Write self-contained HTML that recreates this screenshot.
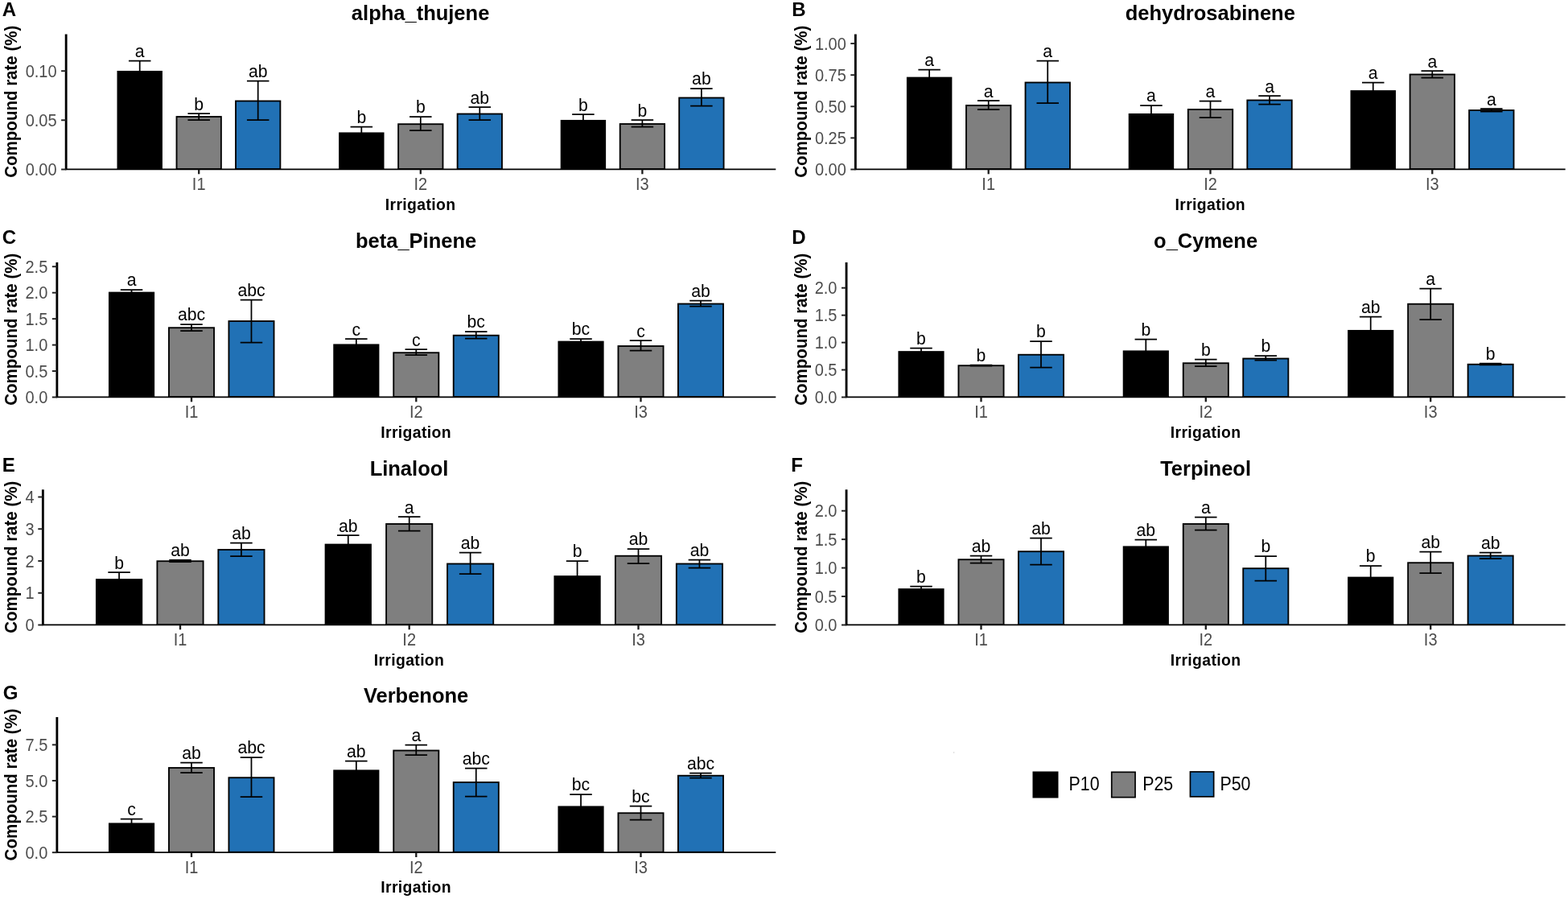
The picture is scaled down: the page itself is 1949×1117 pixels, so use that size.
<!DOCTYPE html>
<html lang="en">
<head>
<meta charset="utf-8">
<title>Compound rate by irrigation</title>
<style>
html,body{margin:0;padding:0;background:#fff;}
body{width:1949px;height:1117px;overflow:hidden;}
svg{display:block;}
text{font-family:"Liberation Sans", sans-serif;fill:#000;}
.tag{font-size:24px;font-weight:bold;}
.ttl{font-size:25.5px;font-weight:bold;text-anchor:middle;}
.axt{font-size:20.5px;font-weight:bold;text-anchor:middle;}
.ytl{font-size:20px;fill:#4d4d4d;text-anchor:end;}
.xtl{font-size:20px;fill:#4d4d4d;text-anchor:middle;}
.lab{font-size:21.2px;text-anchor:middle;}
.lg{font-size:21.4px;}
.ax{stroke:#000;stroke-width:2.85;fill:none;stroke-linecap:butt;}
.axh{stroke:#000;stroke-width:1.7;fill:none;stroke-linecap:butt;}
.tk{stroke:#1f1f1f;stroke-width:1.9;fill:none;}
.tkx{stroke:#1a1a1a;stroke-width:2.3;fill:none;}
.axx{font-size:19.4px;font-weight:bold;text-anchor:middle;letter-spacing:0.35px;}
.eb{stroke:#000;stroke-width:1.75;fill:none;}
</style>
</head>
<body>
<svg width="1949" height="1117" viewBox="0 0 1949 1117">
<rect width="1949" height="1117" fill="#fff"/>
<g class="panel">
<text class="tag" x="2.8" y="19.9">A</text>
<text class="ttl" x="522.6" y="24.6">alpha_thujene</text>
<text class="axt" transform="translate(21.3,126.2) rotate(-90) scale(1,1.035)">Compound rate (%)</text>
<text class="axx" x="522.6" y="260.6">Irrigation</text>
<rect x="145.5" y="87.95" width="56.42" height="123.05" fill="#000000"/>
<path class="eb" d="M159.96 75.7H187.46M173.71 75.7V99.5M159.96 99.5H187.46"/>
<text class="lab" x="173.71" y="71.1">a</text>
<rect x="219.51" y="145.03" width="55.37" height="65.05" fill="#7f7f7f" stroke="#000" stroke-width="1.85"/>
<path class="eb" d="M233.45 141.2H260.95M247.2 141.2V149.2M233.45 149.2H260.95"/>
<text class="lab" x="247.2" y="136.6">b</text>
<rect x="293.01" y="125.52" width="55.37" height="84.55" fill="#2171b5" stroke="#000" stroke-width="1.85"/>
<path class="eb" d="M306.94 100.7H334.44M320.69 100.7V149.2M306.94 149.2H334.44"/>
<text class="lab" x="320.69" y="96.1">ab</text>
<rect x="421.1" y="164.45" width="56.42" height="46.55" fill="#000000"/>
<path class="eb" d="M435.56 157.7H463.06M449.31 157.7V170.5M435.56 170.5H463.06"/>
<text class="lab" x="449.31" y="153.1">b</text>
<rect x="495.11" y="154.22" width="55.37" height="55.85" fill="#7f7f7f" stroke="#000" stroke-width="1.85"/>
<path class="eb" d="M509.05 145H536.55M522.8 145V162M509.05 162H536.55"/>
<text class="lab" x="522.8" y="140.4">b</text>
<rect x="568.61" y="141.53" width="55.37" height="68.55" fill="#2171b5" stroke="#000" stroke-width="1.85"/>
<path class="eb" d="M582.54 133.2H610.04M596.29 133.2V149.2M582.54 149.2H610.04"/>
<text class="lab" x="596.29" y="128.6">ab</text>
<rect x="696.7" y="148.95" width="56.42" height="62.05" fill="#000000"/>
<path class="eb" d="M711.16 142.2H738.66M724.91 142.2V155M711.16 155H738.66"/>
<text class="lab" x="724.91" y="137.6">b</text>
<rect x="770.71" y="154.03" width="55.37" height="56.05" fill="#7f7f7f" stroke="#000" stroke-width="1.85"/>
<path class="eb" d="M784.65 149.2H812.15M798.4 149.2V157.7M784.65 157.7H812.15"/>
<text class="lab" x="798.4" y="144.6">b</text>
<rect x="844.21" y="121.52" width="55.37" height="88.55" fill="#2171b5" stroke="#000" stroke-width="1.85"/>
<path class="eb" d="M858.14 110H885.64M871.89 110V131.7M858.14 131.7H885.64"/>
<text class="lab" x="871.89" y="105.4">ab</text>
<path class="ax" d="M82.15 42.5V211.05"/>
<path class="axh" d="M81.1 210.35H964.3"/>
<path class="tk" d="M76.1 210.5H82.3"/>
<text class="ytl" transform="translate(70.6,218.1) scale(1,1.09)">0.00</text>
<path class="tk" d="M76.1 149.3H82.3"/>
<text class="ytl" transform="translate(70.6,156.9) scale(1,1.09)">0.05</text>
<path class="tk" d="M76.1 88.2H82.3"/>
<text class="ytl" transform="translate(70.6,95.8) scale(1,1.09)">0.10</text>
<path class="tkx" d="M247.2 210.5V216.3"/>
<text class="xtl" transform="translate(247.2,236.1) scale(1,1.06)">I1</text>
<path class="tkx" d="M522.8 210.5V216.3"/>
<text class="xtl" transform="translate(522.8,236.1) scale(1,1.06)">I2</text>
<path class="tkx" d="M798.4 210.5V216.3"/>
<text class="xtl" transform="translate(798.4,236.1) scale(1,1.06)">I3</text>
</g>
<g class="panel">
<text class="tag" x="984.2" y="19.9">B</text>
<text class="ttl" x="1504.3" y="24.6">dehydrosabinene</text>
<text class="axt" transform="translate(1003.3,126.2) rotate(-90) scale(1,1.035)">Compound rate (%)</text>
<text class="axx" x="1504.3" y="260.6">Irrigation</text>
<rect x="1126.92" y="95.65" width="56.46" height="115.35" fill="#000000"/>
<path class="eb" d="M1141.4 86.5H1168.9M1155.15 86.5V104.1M1141.4 104.1H1168.9"/>
<text class="lab" x="1155.15" y="81.9">a</text>
<rect x="1200.99" y="131.03" width="55.41" height="79.05" fill="#7f7f7f" stroke="#000" stroke-width="1.85"/>
<path class="eb" d="M1214.95 125.2H1242.45M1228.7 125.2V136M1214.95 136H1242.45"/>
<text class="lab" x="1228.7" y="120.6">a</text>
<rect x="1274.54" y="102.52" width="55.41" height="107.55" fill="#2171b5" stroke="#000" stroke-width="1.85"/>
<path class="eb" d="M1288.5 75.5H1316M1302.25 75.5V128.2M1288.5 128.2H1316"/>
<text class="lab" x="1302.25" y="70.9">a</text>
<rect x="1402.72" y="140.95" width="56.46" height="70.05" fill="#000000"/>
<path class="eb" d="M1417.2 131H1444.7M1430.95 131V150.2M1417.2 150.2H1444.7"/>
<text class="lab" x="1430.95" y="126.4">a</text>
<rect x="1476.79" y="136.03" width="55.41" height="74.05" fill="#7f7f7f" stroke="#000" stroke-width="1.85"/>
<path class="eb" d="M1490.75 125.7H1518.25M1504.5 125.7V146M1490.75 146H1518.25"/>
<text class="lab" x="1504.5" y="121.1">a</text>
<rect x="1550.34" y="124.52" width="55.41" height="85.55" fill="#2171b5" stroke="#000" stroke-width="1.85"/>
<path class="eb" d="M1564.3 119.2H1591.8M1578.05 119.2V129.7M1564.3 129.7H1591.8"/>
<text class="lab" x="1578.05" y="114.6">a</text>
<rect x="1678.52" y="112.15" width="56.46" height="98.85" fill="#000000"/>
<path class="eb" d="M1693 102.7H1720.5M1706.75 102.7V120.9M1693 120.9H1720.5"/>
<text class="lab" x="1706.75" y="98.1">a</text>
<rect x="1752.59" y="92.52" width="55.41" height="117.55" fill="#7f7f7f" stroke="#000" stroke-width="1.85"/>
<path class="eb" d="M1766.55 88.2H1794.05M1780.3 88.2V96.5M1766.55 96.5H1794.05"/>
<text class="lab" x="1780.3" y="83.6">a</text>
<rect x="1826.14" y="137.03" width="55.41" height="73.05" fill="#2171b5" stroke="#000" stroke-width="1.85"/>
<path class="eb" d="M1840.1 135.2H1867.6M1853.85 135.2V138.7M1840.1 138.7H1867.6"/>
<text class="lab" x="1853.85" y="130.6">a</text>
<path class="ax" d="M1063.35 42.5V211.05"/>
<path class="axh" d="M1062.3 210.35H1945.7"/>
<path class="tk" d="M1057.3 210.5H1063.5"/>
<text class="ytl" transform="translate(1051.8,218.1) scale(1,1.09)">0.00</text>
<path class="tk" d="M1057.3 171.4H1063.5"/>
<text class="ytl" transform="translate(1051.8,179) scale(1,1.09)">0.25</text>
<path class="tk" d="M1057.3 132.3H1063.5"/>
<text class="ytl" transform="translate(1051.8,139.9) scale(1,1.09)">0.50</text>
<path class="tk" d="M1057.3 93.2H1063.5"/>
<text class="ytl" transform="translate(1051.8,100.8) scale(1,1.09)">0.75</text>
<path class="tk" d="M1057.3 54.1H1063.5"/>
<text class="ytl" transform="translate(1051.8,61.7) scale(1,1.09)">1.00</text>
<path class="tkx" d="M1228.7 210.5V216.3"/>
<text class="xtl" transform="translate(1228.7,236.1) scale(1,1.06)">I1</text>
<path class="tkx" d="M1504.5 210.5V216.3"/>
<text class="xtl" transform="translate(1504.5,236.1) scale(1,1.06)">I2</text>
<path class="tkx" d="M1780.3 210.5V216.3"/>
<text class="xtl" transform="translate(1780.3,236.1) scale(1,1.06)">I3</text>
</g>
<g class="panel">
<text class="tag" x="2.8" y="302.9">C</text>
<text class="ttl" x="517.1" y="307.6">beta_Pinene</text>
<text class="axt" transform="translate(21.3,409.2) rotate(-90) scale(1,1.035)">Compound rate (%)</text>
<text class="axx" x="517.1" y="543.6">Irrigation</text>
<rect x="134.96" y="362.65" width="57.15" height="131.35" fill="#000000"/>
<path class="eb" d="M149.78 360H177.28M163.53 360V364.6M149.78 364.6H177.28"/>
<text class="lab" x="163.53" y="355.4">a</text>
<rect x="209.95" y="407.23" width="56.1" height="85.85" fill="#7f7f7f" stroke="#000" stroke-width="1.85"/>
<path class="eb" d="M224.25 403H251.75M238 403V411.2M224.25 411.2H251.75"/>
<text class="lab" x="238" y="398.4">abc</text>
<rect x="284.42" y="399.03" width="56.1" height="94.05" fill="#2171b5" stroke="#000" stroke-width="1.85"/>
<path class="eb" d="M298.72 372.7H326.22M312.47 372.7V425.5M298.72 425.5H326.22"/>
<text class="lab" x="312.47" y="368.1">abc</text>
<rect x="414.26" y="427.45" width="57.15" height="66.55" fill="#000000"/>
<path class="eb" d="M429.08 421.2H456.58M442.83 421.2V433M429.08 433H456.58"/>
<text class="lab" x="442.83" y="416.6">c</text>
<rect x="489.25" y="438.23" width="56.1" height="54.85" fill="#7f7f7f" stroke="#000" stroke-width="1.85"/>
<path class="eb" d="M503.55 434.2H531.05M517.3 434.2V441M503.55 441H531.05"/>
<text class="lab" x="517.3" y="429.6">c</text>
<rect x="563.72" y="416.73" width="56.1" height="76.35" fill="#2171b5" stroke="#000" stroke-width="1.85"/>
<path class="eb" d="M578.02 412H605.52M591.77 412V420.7M578.02 420.7H605.52"/>
<text class="lab" x="591.77" y="407.4">bc</text>
<rect x="693.46" y="423.65" width="57.15" height="70.35" fill="#000000"/>
<path class="eb" d="M708.28 421H735.78M722.03 421V425.6M708.28 425.6H735.78"/>
<text class="lab" x="722.03" y="416.4">bc</text>
<rect x="768.45" y="430.03" width="56.1" height="63.05" fill="#7f7f7f" stroke="#000" stroke-width="1.85"/>
<path class="eb" d="M782.75 423.2H810.25M796.5 423.2V435.7M782.75 435.7H810.25"/>
<text class="lab" x="796.5" y="418.6">c</text>
<rect x="842.92" y="377.53" width="56.1" height="115.55" fill="#2171b5" stroke="#000" stroke-width="1.85"/>
<path class="eb" d="M857.22 373.7H884.72M870.97 373.7V380.5M857.22 380.5H884.72"/>
<text class="lab" x="870.97" y="369.1">ab</text>
<path class="ax" d="M70.85 326V494.05"/>
<path class="axh" d="M69.8 493.35H964.3"/>
<path class="tk" d="M64.8 493.5H71"/>
<text class="ytl" transform="translate(59.3,501.1) scale(1,1.09)">0.0</text>
<path class="tk" d="M64.8 461.05H71"/>
<text class="ytl" transform="translate(59.3,468.65) scale(1,1.09)">0.5</text>
<path class="tk" d="M64.8 428.6H71"/>
<text class="ytl" transform="translate(59.3,436.2) scale(1,1.09)">1.0</text>
<path class="tk" d="M64.8 396.15H71"/>
<text class="ytl" transform="translate(59.3,403.75) scale(1,1.09)">1.5</text>
<path class="tk" d="M64.8 363.7H71"/>
<text class="ytl" transform="translate(59.3,371.3) scale(1,1.09)">2.0</text>
<path class="tk" d="M64.8 331.25H71"/>
<text class="ytl" transform="translate(59.3,338.85) scale(1,1.09)">2.5</text>
<path class="tkx" d="M238 493.5V499.3"/>
<text class="xtl" transform="translate(238,519.1) scale(1,1.06)">I1</text>
<path class="tkx" d="M517.3 493.5V499.3"/>
<text class="xtl" transform="translate(517.3,519.1) scale(1,1.06)">I2</text>
<path class="tkx" d="M796.5 493.5V499.3"/>
<text class="xtl" transform="translate(796.5,519.1) scale(1,1.06)">I3</text>
</g>
<g class="panel">
<text class="tag" x="984.2" y="302.9">D</text>
<text class="ttl" x="1498.6" y="307.6">o_Cymene</text>
<text class="axt" transform="translate(1003.3,409.2) rotate(-90) scale(1,1.035)">Compound rate (%)</text>
<text class="axx" x="1498.6" y="543.6">Irrigation</text>
<rect x="1116.42" y="436.15" width="57.17" height="57.85" fill="#000000"/>
<path class="eb" d="M1131.26 432.5H1158.76M1145.01 432.5V439.1M1131.26 439.1H1158.76"/>
<text class="lab" x="1145.01" y="427.9">b</text>
<rect x="1191.44" y="454.23" width="56.12" height="38.85" fill="#7f7f7f" stroke="#000" stroke-width="1.85"/>
<path class="eb" d="M1205.75 453.6H1233.25M1219.5 453.6V454.6M1205.75 454.6H1233.25"/>
<text class="lab" x="1219.5" y="449">b</text>
<rect x="1265.93" y="440.73" width="56.12" height="52.35" fill="#2171b5" stroke="#000" stroke-width="1.85"/>
<path class="eb" d="M1280.24 424H1307.74M1293.99 424V456.5M1280.24 456.5H1307.74"/>
<text class="lab" x="1293.99" y="419.4">b</text>
<rect x="1395.72" y="435.45" width="57.17" height="58.55" fill="#000000"/>
<path class="eb" d="M1410.56 421.7H1438.06M1424.31 421.7V448.5M1410.56 448.5H1438.06"/>
<text class="lab" x="1424.31" y="417.1">b</text>
<rect x="1470.74" y="451.23" width="56.12" height="41.85" fill="#7f7f7f" stroke="#000" stroke-width="1.85"/>
<path class="eb" d="M1485.05 446.7H1512.55M1498.8 446.7V455M1485.05 455H1512.55"/>
<text class="lab" x="1498.8" y="442.1">b</text>
<rect x="1545.23" y="445.53" width="56.12" height="47.55" fill="#2171b5" stroke="#000" stroke-width="1.85"/>
<path class="eb" d="M1559.54 442H1587.04M1573.29 442V447.7M1559.54 447.7H1587.04"/>
<text class="lab" x="1573.29" y="437.4">b</text>
<rect x="1675.12" y="409.95" width="57.17" height="84.05" fill="#000000"/>
<path class="eb" d="M1689.96 393.5H1717.46M1703.71 393.5V425.7M1689.96 425.7H1717.46"/>
<text class="lab" x="1703.71" y="388.9">ab</text>
<rect x="1750.14" y="377.73" width="56.12" height="115.35" fill="#7f7f7f" stroke="#000" stroke-width="1.85"/>
<path class="eb" d="M1764.45 358.5H1791.95M1778.2 358.5V397.2M1764.45 397.2H1791.95"/>
<text class="lab" x="1778.2" y="353.9">a</text>
<rect x="1824.63" y="452.73" width="56.12" height="40.35" fill="#2171b5" stroke="#000" stroke-width="1.85"/>
<path class="eb" d="M1838.94 451.6H1866.44M1852.69 451.6V453.4M1838.94 453.4H1866.44"/>
<text class="lab" x="1852.69" y="447">b</text>
<path class="ax" d="M1052.05 326V494.05"/>
<path class="axh" d="M1051 493.35H1945.7"/>
<path class="tk" d="M1046 493.5H1052.2"/>
<text class="ytl" transform="translate(1040.5,501.1) scale(1,1.09)">0.0</text>
<path class="tk" d="M1046 459.55H1052.2"/>
<text class="ytl" transform="translate(1040.5,467.15) scale(1,1.09)">0.5</text>
<path class="tk" d="M1046 425.6H1052.2"/>
<text class="ytl" transform="translate(1040.5,433.2) scale(1,1.09)">1.0</text>
<path class="tk" d="M1046 391.65H1052.2"/>
<text class="ytl" transform="translate(1040.5,399.25) scale(1,1.09)">1.5</text>
<path class="tk" d="M1046 357.7H1052.2"/>
<text class="ytl" transform="translate(1040.5,365.3) scale(1,1.09)">2.0</text>
<path class="tkx" d="M1219.5 493.5V499.3"/>
<text class="xtl" transform="translate(1219.5,519.1) scale(1,1.06)">I1</text>
<path class="tkx" d="M1498.8 493.5V499.3"/>
<text class="xtl" transform="translate(1498.8,519.1) scale(1,1.06)">I2</text>
<path class="tkx" d="M1778.2 493.5V499.3"/>
<text class="xtl" transform="translate(1778.2,519.1) scale(1,1.06)">I3</text>
</g>
<g class="panel">
<text class="tag" x="2.8" y="585.9">E</text>
<text class="ttl" x="508.5" y="590.6">Linalool</text>
<text class="axt" transform="translate(21.3,692.2) rotate(-90) scale(1,1.035)">Compound rate (%)</text>
<text class="axx" x="508.5" y="826.6">Irrigation</text>
<rect x="118.94" y="719.15" width="58.25" height="57.85" fill="#000000"/>
<path class="eb" d="M134.32 711.2H161.82M148.07 711.2V726.4M134.32 726.4H161.82"/>
<text class="lab" x="148.07" y="706.6">b</text>
<rect x="195.4" y="697.23" width="57.2" height="78.85" fill="#7f7f7f" stroke="#000" stroke-width="1.85"/>
<path class="eb" d="M210.25 695.8H237.75M224 695.8V698.2M210.25 698.2H237.75"/>
<text class="lab" x="224" y="691.2">ab</text>
<rect x="271.33" y="683.02" width="57.2" height="93.05" fill="#2171b5" stroke="#000" stroke-width="1.85"/>
<path class="eb" d="M286.18 674.7H313.68M299.93 674.7V691M286.18 691H313.68"/>
<text class="lab" x="299.93" y="670.1">ab</text>
<rect x="403.64" y="675.65" width="58.25" height="101.35" fill="#000000"/>
<path class="eb" d="M419.02 665.2H446.52M432.77 665.2V685.4M419.02 685.4H446.52"/>
<text class="lab" x="432.77" y="660.6">ab</text>
<rect x="480.1" y="651.02" width="57.2" height="125.05" fill="#7f7f7f" stroke="#000" stroke-width="1.85"/>
<path class="eb" d="M494.95 642.2H522.45M508.7 642.2V659.5M494.95 659.5H522.45"/>
<text class="lab" x="508.7" y="637.6">a</text>
<rect x="556.03" y="700.52" width="57.2" height="75.55" fill="#2171b5" stroke="#000" stroke-width="1.85"/>
<path class="eb" d="M570.88 686.7H598.38M584.63 686.7V713.2M570.88 713.2H598.38"/>
<text class="lab" x="584.63" y="682.1">ab</text>
<rect x="688.44" y="715.15" width="58.25" height="61.85" fill="#000000"/>
<path class="eb" d="M703.82 697H731.32M717.57 697V732.6M703.82 732.6H731.32"/>
<text class="lab" x="717.57" y="692.4">b</text>
<rect x="764.9" y="690.73" width="57.2" height="85.35" fill="#7f7f7f" stroke="#000" stroke-width="1.85"/>
<path class="eb" d="M779.75 682H807.25M793.5 682V700.2M779.75 700.2H807.25"/>
<text class="lab" x="793.5" y="677.4">ab</text>
<rect x="840.83" y="700.52" width="57.2" height="75.55" fill="#2171b5" stroke="#000" stroke-width="1.85"/>
<path class="eb" d="M855.68 695.7H883.18M869.43 695.7V705.5M855.68 705.5H883.18"/>
<text class="lab" x="869.43" y="691.1">ab</text>
<path class="ax" d="M53.35 608.3V777.05"/>
<path class="axh" d="M52.3 776.35H964.3"/>
<path class="tk" d="M47.3 776.5H53.5"/>
<text class="ytl" transform="translate(42.6,784.1) scale(1,1.09)">0</text>
<path class="tk" d="M47.3 736.75H53.5"/>
<text class="ytl" transform="translate(42.6,744.35) scale(1,1.09)">1</text>
<path class="tk" d="M47.3 697H53.5"/>
<text class="ytl" transform="translate(42.6,704.6) scale(1,1.09)">2</text>
<path class="tk" d="M47.3 657.25H53.5"/>
<text class="ytl" transform="translate(42.6,664.85) scale(1,1.09)">3</text>
<path class="tk" d="M47.3 617.5H53.5"/>
<text class="ytl" transform="translate(42.6,625.1) scale(1,1.09)">4</text>
<path class="tkx" d="M224 776.5V782.3"/>
<text class="xtl" transform="translate(224,802.1) scale(1,1.06)">I1</text>
<path class="tkx" d="M508.7 776.5V782.3"/>
<text class="xtl" transform="translate(508.7,802.1) scale(1,1.06)">I2</text>
<path class="tkx" d="M793.5 776.5V782.3"/>
<text class="xtl" transform="translate(793.5,802.1) scale(1,1.06)">I3</text>
</g>
<g class="panel">
<text class="tag" x="983.3" y="585.9">F</text>
<text class="ttl" x="1498.6" y="590.6">Terpineol</text>
<text class="axt" transform="translate(1003.3,692.2) rotate(-90) scale(1,1.035)">Compound rate (%)</text>
<text class="axx" x="1498.6" y="826.6">Irrigation</text>
<rect x="1116.42" y="731.15" width="57.17" height="45.85" fill="#000000"/>
<path class="eb" d="M1131.26 728.5H1158.76M1145.01 728.5V733.1M1131.26 733.1H1158.76"/>
<text class="lab" x="1145.01" y="723.9">b</text>
<rect x="1191.44" y="695.23" width="56.12" height="80.85" fill="#7f7f7f" stroke="#000" stroke-width="1.85"/>
<path class="eb" d="M1205.75 690.7H1233.25M1219.5 690.7V699.7M1205.75 699.7H1233.25"/>
<text class="lab" x="1219.5" y="686.1">ab</text>
<rect x="1265.93" y="685.23" width="56.12" height="90.85" fill="#2171b5" stroke="#000" stroke-width="1.85"/>
<path class="eb" d="M1280.24 668.7H1307.74M1293.99 668.7V701.5M1280.24 701.5H1307.74"/>
<text class="lab" x="1293.99" y="664.1">ab</text>
<rect x="1395.72" y="678.45" width="57.17" height="98.55" fill="#000000"/>
<path class="eb" d="M1410.56 670.5H1438.06M1424.31 670.5V685.7M1410.56 685.7H1438.06"/>
<text class="lab" x="1424.31" y="665.9">ab</text>
<rect x="1470.74" y="651.02" width="56.12" height="125.05" fill="#7f7f7f" stroke="#000" stroke-width="1.85"/>
<path class="eb" d="M1485.05 642.5H1512.55M1498.8 642.5V658.5M1485.05 658.5H1512.55"/>
<text class="lab" x="1498.8" y="637.9">a</text>
<rect x="1545.23" y="706.23" width="56.12" height="69.85" fill="#2171b5" stroke="#000" stroke-width="1.85"/>
<path class="eb" d="M1559.54 691H1587.04M1573.29 691V721.5M1559.54 721.5H1587.04"/>
<text class="lab" x="1573.29" y="686.4">b</text>
<rect x="1675.12" y="716.65" width="57.17" height="60.35" fill="#000000"/>
<path class="eb" d="M1689.96 703H1717.46M1703.71 703V729.6M1689.96 729.6H1717.46"/>
<text class="lab" x="1703.71" y="698.4">b</text>
<rect x="1750.14" y="699.23" width="56.12" height="76.85" fill="#7f7f7f" stroke="#000" stroke-width="1.85"/>
<path class="eb" d="M1764.45 685.7H1791.95M1778.2 685.7V712.2M1764.45 712.2H1791.95"/>
<text class="lab" x="1778.2" y="681.1">ab</text>
<rect x="1824.63" y="690.52" width="56.12" height="85.55" fill="#2171b5" stroke="#000" stroke-width="1.85"/>
<path class="eb" d="M1838.94 686.5H1866.44M1852.69 686.5V694.2M1838.94 694.2H1866.44"/>
<text class="lab" x="1852.69" y="681.9">ab</text>
<path class="ax" d="M1052.05 608.3V777.05"/>
<path class="axh" d="M1051 776.35H1945.7"/>
<path class="tk" d="M1046 776.5H1052.2"/>
<text class="ytl" transform="translate(1040.5,784.1) scale(1,1.09)">0.0</text>
<path class="tk" d="M1046 741.05H1052.2"/>
<text class="ytl" transform="translate(1040.5,748.65) scale(1,1.09)">0.5</text>
<path class="tk" d="M1046 705.6H1052.2"/>
<text class="ytl" transform="translate(1040.5,713.2) scale(1,1.09)">1.0</text>
<path class="tk" d="M1046 670.15H1052.2"/>
<text class="ytl" transform="translate(1040.5,677.75) scale(1,1.09)">1.5</text>
<path class="tk" d="M1046 634.7H1052.2"/>
<text class="ytl" transform="translate(1040.5,642.3) scale(1,1.09)">2.0</text>
<path class="tkx" d="M1219.5 776.5V782.3"/>
<text class="xtl" transform="translate(1219.5,802.1) scale(1,1.06)">I1</text>
<path class="tkx" d="M1498.8 776.5V782.3"/>
<text class="xtl" transform="translate(1498.8,802.1) scale(1,1.06)">I2</text>
<path class="tkx" d="M1778.2 776.5V782.3"/>
<text class="xtl" transform="translate(1778.2,802.1) scale(1,1.06)">I3</text>
</g>
<g class="panel">
<text class="tag" x="3.8" y="868.6">G</text>
<text class="ttl" x="517.1" y="873.3">Verbenone</text>
<text class="axt" transform="translate(21.3,974.9) rotate(-90) scale(1,1.035)">Compound rate (%)</text>
<text class="axx" x="517.1" y="1109.3">Irrigation</text>
<rect x="134.96" y="1022.45" width="57.15" height="37.25" fill="#000000"/>
<path class="eb" d="M149.78 1017.7H177.28M163.53 1017.7V1026.5M149.78 1026.5H177.28"/>
<text class="lab" x="163.53" y="1013.1">c</text>
<rect x="209.95" y="954.02" width="56.1" height="104.75" fill="#7f7f7f" stroke="#000" stroke-width="1.85"/>
<path class="eb" d="M224.25 947.7H251.75M238 947.7V960M224.25 960H251.75"/>
<text class="lab" x="238" y="943.1">ab</text>
<rect x="284.42" y="966.23" width="56.1" height="92.55" fill="#2171b5" stroke="#000" stroke-width="1.85"/>
<path class="eb" d="M298.72 941H326.22M312.47 941V990M298.72 990H326.22"/>
<text class="lab" x="312.47" y="936.4">abc</text>
<rect x="414.26" y="956.45" width="57.15" height="103.25" fill="#000000"/>
<path class="eb" d="M429.08 945.7H456.58M442.83 945.7V966.5M429.08 966.5H456.58"/>
<text class="lab" x="442.83" y="941.1">ab</text>
<rect x="489.25" y="932.52" width="56.1" height="126.25" fill="#7f7f7f" stroke="#000" stroke-width="1.85"/>
<path class="eb" d="M503.55 925.5H531.05M517.3 925.5V938.2M503.55 938.2H531.05"/>
<text class="lab" x="517.3" y="920.9">a</text>
<rect x="563.72" y="972.02" width="56.1" height="86.75" fill="#2171b5" stroke="#000" stroke-width="1.85"/>
<path class="eb" d="M578.02 954.7H605.52M591.77 954.7V989.5M578.02 989.5H605.52"/>
<text class="lab" x="591.77" y="950.1">abc</text>
<rect x="693.46" y="1001.45" width="57.15" height="58.25" fill="#000000"/>
<path class="eb" d="M708.28 987H735.78M722.03 987V1015.2M708.28 1015.2H735.78"/>
<text class="lab" x="722.03" y="982.4">bc</text>
<rect x="768.45" y="1010.23" width="56.1" height="48.55" fill="#7f7f7f" stroke="#000" stroke-width="1.85"/>
<path class="eb" d="M782.75 1001.7H810.25M796.5 1001.7V1018.7M782.75 1018.7H810.25"/>
<text class="lab" x="796.5" y="997.1">bc</text>
<rect x="842.92" y="963.73" width="56.1" height="95.05" fill="#2171b5" stroke="#000" stroke-width="1.85"/>
<path class="eb" d="M857.22 960.7H884.72M870.97 960.7V966.7M857.22 966.7H884.72"/>
<text class="lab" x="870.97" y="956.1">abc</text>
<path class="ax" d="M70.85 891V1059.75"/>
<path class="axh" d="M69.8 1059.05H964.3"/>
<path class="tk" d="M64.8 1059.2H71"/>
<text class="ytl" transform="translate(59.3,1066.8) scale(1,1.09)">0.0</text>
<path class="tk" d="M64.8 1014.6H71"/>
<text class="ytl" transform="translate(59.3,1022.2) scale(1,1.09)">2.5</text>
<path class="tk" d="M64.8 970H71"/>
<text class="ytl" transform="translate(59.3,977.6) scale(1,1.09)">5.0</text>
<path class="tk" d="M64.8 925.4H71"/>
<text class="ytl" transform="translate(59.3,933) scale(1,1.09)">7.5</text>
<path class="tkx" d="M238 1059.2V1065"/>
<text class="xtl" transform="translate(238,1084.8) scale(1,1.06)">I1</text>
<path class="tkx" d="M517.3 1059.2V1065"/>
<text class="xtl" transform="translate(517.3,1084.8) scale(1,1.06)">I2</text>
<path class="tkx" d="M796.5 1059.2V1065"/>
<text class="xtl" transform="translate(796.5,1084.8) scale(1,1.06)">I3</text>
</g>
<g class="legend">
<rect x="1283.5" y="958.5" width="32" height="33" fill="#000"/>
<rect x="1381.75" y="959.35" width="29.3" height="31.3" fill="#7f7f7f" stroke="#000" stroke-width="1.7"/>
<rect x="1479.45" y="958.95" width="29.2" height="30.9" fill="#2171b5" stroke="#000" stroke-width="1.7"/>
<text class="lg" transform="translate(1328.5,982.0) scale(1,1.08)">P10</text>
<text class="lg" transform="translate(1420.2,982.0) scale(1,1.08)">P25</text>
<text class="lg" transform="translate(1516.4,982.0) scale(1,1.08)">P50</text>
<circle cx="1185.7" cy="935" r="0.7" fill="#c8c8c8"/>
</g>
</svg>
</body>
</html>
